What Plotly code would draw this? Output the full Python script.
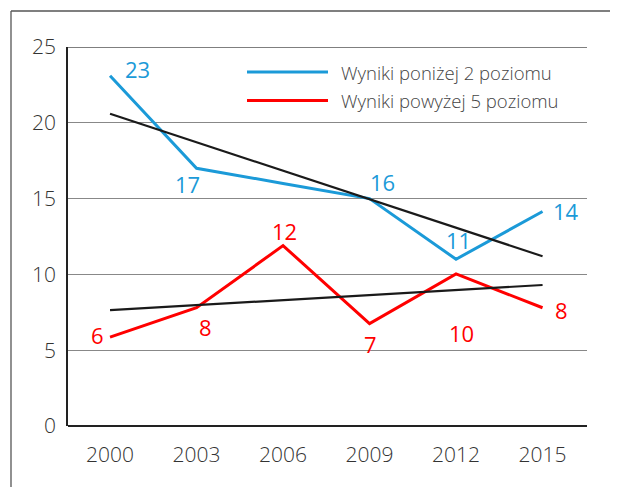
import plotly.graph_objects as go

years = ["2000", "2003", "2006", "2009", "2012", "2015"]
below2 = [23.1, 17.0, 16.0, 15.0, 11.0, 14.15]
above5 = [5.86, 7.8, 11.9, 6.75, 10.03, 7.8]
below2_labels = ["23", "17", None, "16", "11", "14"]
above5_labels = ["6", "8", "12", "7", "10", "8"]
trend_below2 = [20.6, 11.2]
trend_above5 = [7.64, 9.3]
yticks = [0, 5, 10, 15, 20, 25]
series_names = ["Wyniki poniżej 2 poziomu", "Wyniki powyżej 5 poziomu"]

BLUE = "#1b9ad8"
RED = "#ff0000"
FONT = "Open Sans"
OFF = 8  # browser body margin

xi = list(range(len(years)))
fig = go.Figure()
fig.add_trace(go.Scatter(x=xi, y=below2, mode="lines", line=dict(color=BLUE, width=3), name=series_names[0]))
fig.add_trace(go.Scatter(x=xi, y=above5, mode="lines", line=dict(color=RED, width=3), name=series_names[1]))
fig.add_trace(go.Scatter(x=[xi[0], xi[-1]], y=trend_below2, mode="lines", line=dict(color="#1a1a1a", width=2.2)))
fig.add_trace(go.Scatter(x=[xi[0], xi[-1]], y=trend_above5, mode="lines", line=dict(color="#1a1a1a", width=2.2)))

# label offsets (pixels) relative to data points
blue_off = [(27, 7), (-9, -16), (0, 0), (13, 17), (2, 19), (23, 0)]
red_off = [(-13, 2), (9, -19), (1, 15), (1, -20), (5, -59), (19, -2)]

ann = []
for i, (t, (dx, dy)) in enumerate(zip(below2_labels, blue_off)):
    if t:
        ann.append(dict(x=xi[i], y=below2[i], text=t, showarrow=False, xshift=dx, yshift=dy,
                        font=dict(family=FONT, size=22, color=BLUE, weight=400)))
for i, (t, (dx, dy)) in enumerate(zip(above5_labels, red_off)):
    ann.append(dict(x=xi[i], y=above5[i], text=t, showarrow=False, xshift=dx, yshift=dy,
                    font=dict(family=FONT, size=22, color=RED, weight=400)))

# legend drawn manually (page pixel coords -> paper)
W, H = 519, 379
def px(x):
    return (x - 68) / W
def py(y):
    return (426 - y) / H

shapes = []
for k, (col, yy) in enumerate([(BLUE, 72), (RED, 100.5)]):
    shapes.append(dict(type="line", xref="paper", yref="paper", x0=px(247), x1=px(328), y0=py(yy), y1=py(yy),
                       line=dict(color=col, width=3)))
    ann.append(dict(xref="paper", yref="paper", x=px(339), y=py(yy), xanchor="left", yanchor="middle",
                    text=series_names[k], showarrow=False,
                    font=dict(family=FONT, size=18.5, color="#444", weight=300)))

# outer frame (top and left lines), kept inside the figure to avoid page scrolling
shapes.append(dict(type="line", xref="paper", yref="paper", x0=px(11), x1=px(610), y0=py(11), y1=py(11),
                   line=dict(color="#555", width=1.3)))
shapes.append(dict(type="line", xref="paper", yref="paper", x0=px(11), x1=px(11), y0=py(11), y1=py(487),
                   line=dict(color="#555", width=1.3)))
# top gridline at 25
shapes.append(dict(type="line", xref="paper", yref="y", x0=0, x1=1, y0=25, y1=25, line=dict(color="#555", width=1.3)))

fig.update_layout(
    width=619 - 2 * OFF, height=496 - 2 * OFF,
    margin=dict(l=68 - OFF, r=32 - OFF, t=47 - OFF, b=70 - OFF, pad=0),
    paper_bgcolor="white", plot_bgcolor="white",
    showlegend=False,
    font=dict(family=FONT, color="#333"),
    xaxis=dict(range=[-0.486, 5.514], tickmode="array", tickvals=xi, ticktext=years,
               showgrid=False, zeroline=False, showline=False, ticks="",
               tickfont=dict(family=FONT, size=21, color="#333", weight=300), ticklabelstandoff=14),
    yaxis=dict(range=[0, 25], tickvals=yticks, showgrid=True, gridcolor="#888", gridwidth=1.3,
               zeroline=True, zerolinecolor="#222", zerolinewidth=1.5,
               showline=True, linecolor="#222", linewidth=1.5, ticks="",
               tickfont=dict(family=FONT, size=21, color="#333", weight=300), ticklabelstandoff=6),
    shapes=shapes, annotations=ann,
)
fig.write_html("out.html", config={"displayModeBar": False},
               default_width="%dpx" % (619 - 2 * OFF), default_height="%dpx" % (496 - 2 * OFF))
